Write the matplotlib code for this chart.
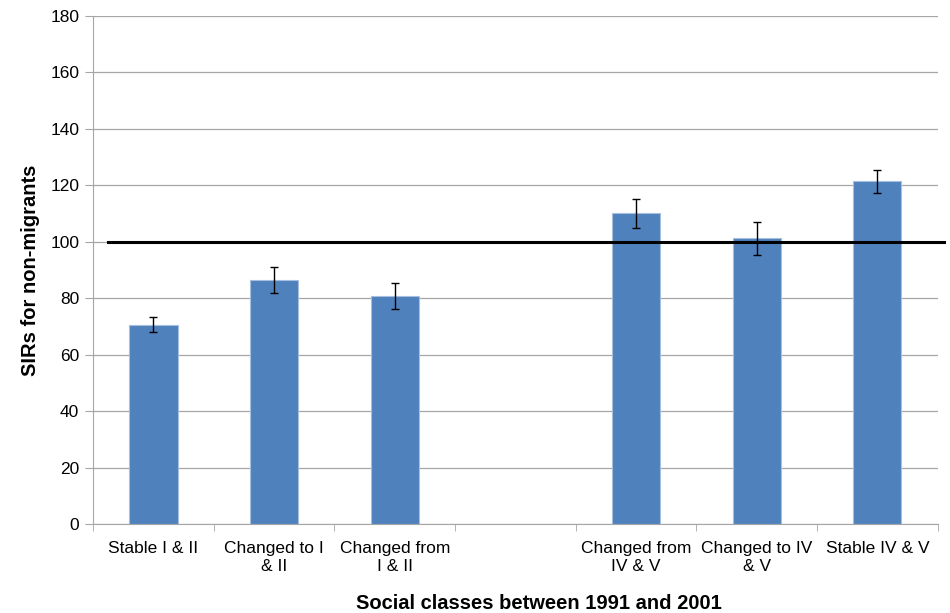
import numpy as np
import matplotlib.pyplot as plt

plt.rcParams['font.family'] = ['Liberation Sans', 'DejaVu Sans']

categories = ["Stable I & II", "Changed to I\n& II", "Changed from\nI & II", "",
              "Changed from\nIV & V", "Changed to IV\n& V", "Stable IV & V"]
sir = [70.7, 86.4, 80.8, np.nan, 110.1, 101.2, 121.4]
err = [2.5, 4.5, 4.6, np.nan, 5.1, 5.9, 4.2]
reference = 100

x = np.arange(len(categories))

fig = plt.figure(figsize=(9.5, 6.13), dpi=100)
ax = fig.add_axes([0.098, 0.145, 0.889, 0.829])

ax.bar(x, sir, 0.4, color="#4F81BD", edgecolor="#A7BFDE", linewidth=0.8, zorder=2)
ax.errorbar(x, sir, yerr=err, fmt="none", ecolor="black", elinewidth=1,
            capsize=3, capthick=1, zorder=3)
ax.axhline(reference, xmin=0.018, xmax=1.008, color="black", linewidth=2.2,
           clip_on=False, zorder=4)

ax.set_xlim(-0.5, len(categories) - 0.5)
ax.set_ylim(0, 180)
ax.set_yticks(np.arange(0, 181, 20))
ax.yaxis.grid(True, color="#A6A6A6", linewidth=0.9, zorder=0)
ax.set_axisbelow(True)

ax.set_xticks(x)
ax.set_xticklabels(categories, fontsize=12.5, linespacing=1.25)
ax.set_xticks(np.arange(-0.5, len(categories)), minor=True)
ax.tick_params(axis="x", which="major", length=0, pad=12)
ax.tick_params(axis="x", which="minor", length=5, color="#A6A6A6")
ax.tick_params(axis="y", length=6, color="#A6A6A6", labelsize=12.5, pad=4)

for side in ["top", "right"]:
    ax.spines[side].set_visible(False)
ax.spines["left"].set_color("#A6A6A6")
ax.spines["bottom"].set_color("#A6A6A6")

ax.set_ylabel("SIRs for non-migrants", fontsize=14.5, fontweight="bold")
ax.set_xlabel("Social classes between 1991 and 2001", fontsize=14.5,
              fontweight="bold")
ax.yaxis.set_label_coords(-0.063, 0.5)
ax.xaxis.set_label_coords(0.528, -0.137)

plt.savefig("out.png")
